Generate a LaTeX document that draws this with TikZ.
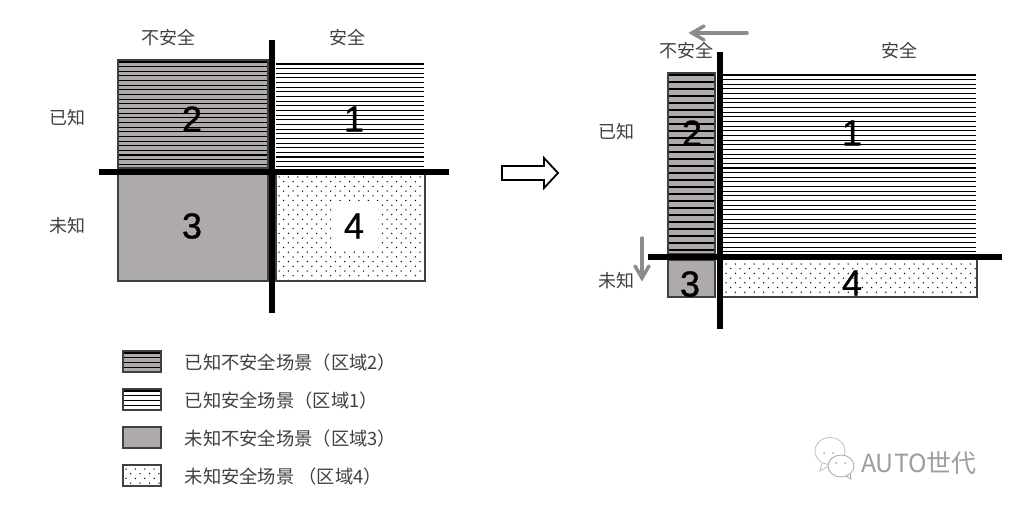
\documentclass[tikz,border=0pt]{standalone}
\usetikzlibrary{calc}
\usepackage{fontspec}
\setmainfont{Noto Sans CJK SC}
\newfontfamily\digitfont[FakeBold=0.9]{Liberation Sans}
\definecolor{txt}{HTML}{404040}
\definecolor{boxg}{HTML}{AEAAAA}
\definecolor{arrg}{HTML}{8C8C8C}
\newcommand{\hatchbox}[5]{% x1 y1 x2 y2 step
  \begin{scope}
    \clip (#1,#2) rectangle (#3,#4);
    \foreach \k in {0,...,45}{
      \draw[black,line width=1.05pt] (#1,{#2+2+\k*#5}) -- (#3,{#2+2+\k*#5});
    }
  \end{scope}}
\newcommand{\dotbox}[4]{% x1 y1 x2 y2
  \begin{scope}
    \clip (#1,#2) rectangle (#3,#4);
    \foreach \r in {0,...,24}{
      \foreach \c in {0,...,29}{
        \pgfmathsetmacro{\dx}{#1+3+\c*9.4+mod(\r,2)*4.7}
        \pgfmathsetmacro{\dy}{#2+4+\r*4.7}
        \fill[black] (\dx,\dy) circle (0.75pt);
      }
    }
  \end{scope}}
\tikzset{
  cjk/.style={font=\fontsize{18}{20}\selectfont,text=txt,inner sep=0pt},
  legtxt/.style={font=\fontsize{18.3}{20}\selectfont,text=txt,inner sep=0pt,anchor=west},
  digit/.style={font=\digitfont\fontsize{36}{38}\selectfont,text=black,inner sep=0pt},
  bar/.style={line width=6pt,black},
  outl/.style={line width=1.2pt,draw=black!75},
  graybox/.style={fill=boxg,outl},
  grayarrow/.style={draw=arrg,line width=3.5pt,line cap=round},
}
\begin{document}
\begin{tikzpicture}[x=1pt,y=-1pt]
\useasboundingbox (0,0) rectangle (1010,508);
\fill[white] (0,0) rectangle (1010,508);
% --- left quadrant
\fill[boxg] (118,60) rectangle (268,168);
\hatchbox{118}{60}{268}{168}{4.65}
\draw[outl] (118,60) rectangle (268,168);
\hatchbox{276}{62}{424}{168}{4.65}
\draw[graybox] (118,173) rectangle (268,281);
\dotbox{276}{173}{425}{281}
\draw[outl] (276,173) -- (276,281) -- (425,281) -- (425,173);
\draw[bar] (271.5,40) -- (271.5,313);
\draw[bar] (99,172) -- (449,172);
\node[digit] (a2) at (192,119) {2};
\node[digit] (a1) at (354,119) {1};
\node[digit] (a3) at (192,226) {3};
\node[digit,fill=white,minimum width=47pt,minimum height=50pt] (a4) at (354,226) {4};
\node[cjk] (t1) at (168.5,38) {不安全};
\node[cjk] (t2) at (347,38) {安全};
\node[cjk] (t3) at (67,118) {已知};
\node[cjk] (t4) at (67,226) {未知};
% --- hollow arrow
\draw[line width=1.8pt,black,fill=white,line join=miter] (502,166) -- (544,166) -- (544,158) -- (558,173) -- (544,188) -- (544,180) -- (502,180) -- cycle;
% --- right quadrant
\fill[boxg] (668,73) rectangle (715,254);
\hatchbox{668}{73}{715}{254}{7}
\draw[outl] (668,73) rectangle (715,254);
\hatchbox{723}{73}{976}{254}{4.65}
\draw[graybox] (668,260) rectangle (715,297);
\dotbox{723}{260}{977}{297}
\draw[outl] (723,297) -- (977,297) -- (977,260);
\draw[bar] (719.5,52) -- (719.5,329);
\draw[bar] (648,257) -- (1002,257);
\node[digit] (b2) at (692,133) {2};
\node[digit] (b1) at (852,133) {1};
\node[digit] (b3) at (690,284) {3};
\node[digit] (b4) at (852,283) {4};
\node[cjk] (r1) at (686,51) {不安全};
\node[cjk] (r2) at (899,51) {安全};
\node[cjk] (r3) at (616,132) {已知};
\node[cjk] (r4) at (616,281) {未知};
\coordinate (h1) at (747,33);
\coordinate (h2) at (692,33);
\coordinate (v1) at (642,238);
\coordinate (v2) at (642,278);
\draw[grayarrow] (h1) -- (h2);
\draw[grayarrow] ($(h2)+(12,-7)$) -- (h2) -- ($(h2)+(12,7)$);
\draw[grayarrow] (v1) -- (v2);
\draw[grayarrow] ($(v2)+(-7,-12)$) -- (v2) -- ($(v2)+(7,-12)$);
% --- legend
\fill[boxg] (123,351) rectangle (161,372);
\hatchbox{123}{351}{161}{372}{4.9}
\draw[outl] (123,351) rectangle (161,372);
\hatchbox{123}{389}{161}{410}{4.9}
\draw[outl] (123,389) rectangle (161,410);
\draw[graybox] (123,427) rectangle (161,448);
\dotbox{123}{465}{161}{486}
\draw[outl] (123,465) rectangle (161,486);
\node[legtxt] (l1) at (184.5,362.5) {已知不安全场景（区域2）};
\node[legtxt] (l2) at (184.5,400.5) {已知安全场景（区域1）};
\node[legtxt] (l3) at (184.5,438.5) {未知不安全场景（区域3）};
\node[legtxt] (l4) at (184.5,476.5) {未知安全场景 （区域4）};
% --- watermark
\draw[black!25,line width=0.8pt,fill=white] (830,451) ellipse (15 and 13.5);
\draw[black!25,line width=0.8pt] (822,463) -- (820,471) -- (830,465);
\draw[black!35,line width=0.8pt,fill=white] (841,466) ellipse (13 and 11);
\draw[black!35,line width=0.8pt] (846,476) -- (851,479) -- (850,473);
\fill[black!35] (824,453) circle (1pt) (833,453) circle (1pt) (836,463) circle (1pt) (845,463) circle (1pt);
\node[font=\fontsize{25}{27}\selectfont,text=black!38,inner sep=0pt,anchor=west] (wm) at (861,463) {AUTO世代};
\end{tikzpicture}
\end{document}
